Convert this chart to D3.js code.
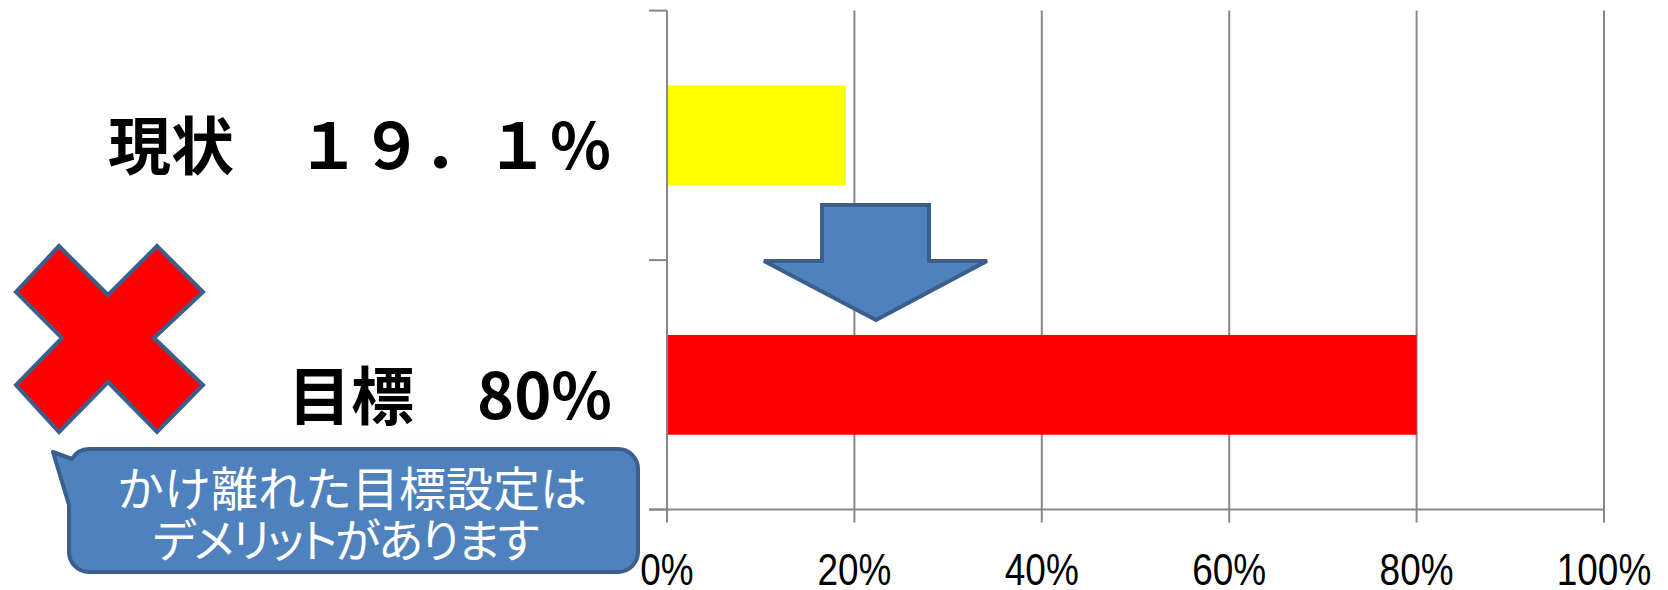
<!DOCTYPE html>
<html>
<head>
<meta charset="utf-8">
<script src="https://cdn.jsdelivr.net/npm/d3@7"></script>
<style>
  html, body { margin: 0; padding: 0; background: #fff; }
  svg { display: block; }
</style>
</head>
<body>
<div id="chart"></div>
<script>
// ---- data ----
const categories = ["現状", "目標"];
const values = [0.191, 0.80];
const valueLabels = ["１９．１％", "80%"];
const barColors = ["#FFFF00", "#FF0000"];
const tickValues = [0, 0.2, 0.4, 0.6, 0.8, 1.0];
const tickLabels = ["0%", "20%", "40%", "60%", "80%", "100%"];
const calloutLines = ["かけ離れた目標設定は", "デメリットがあります"];

// ---- layout ----
const W = 1668, H = 590;
const svg = d3.select("#chart").append("svg").attr("width", W).attr("height", H);

const x = d3.scaleLinear().domain([0, 1]).range([667, 1604]);
const y = d3.scaleBand().domain(categories).range([10.6, 509.6])
  .paddingInner(0.6).paddingOuter(0.3);

const gridColor = "#878787";
const plotTop = 10.6, plotBottom = 509.6;

// gridlines (extend below axis as ticks)
svg.append("g").selectAll("line").data(tickValues).join("line")
  .attr("x1", d => x(d)).attr("x2", d => x(d))
  .attr("y1", plotTop).attr("y2", plotBottom + 13)
  .attr("stroke", gridColor).attr("stroke-width", 2);

// y-axis ticks at band boundaries
const bounds = [plotTop, (plotTop + plotBottom) / 2, plotBottom];
svg.append("g").selectAll("line").data(bounds).join("line")
  .attr("x1", x(0) - 18).attr("x2", x(0))
  .attr("y1", d => d).attr("y2", d => d)
  .attr("stroke", gridColor).attr("stroke-width", 2);

// x-axis line
svg.append("line")
  .attr("x1", x(0) - 18).attr("x2", x(1))
  .attr("y1", plotBottom).attr("y2", plotBottom)
  .attr("stroke", gridColor).attr("stroke-width", 2);

// bars
svg.append("g").selectAll("rect").data(categories).join("rect")
  .attr("x", x(0) + 1)
  .attr("y", d => y(d))
  .attr("width", (d, i) => x(values[i]) - x(0) - 1)
  .attr("height", y.bandwidth())
  .attr("fill", (d, i) => barColors[i]);

// x tick labels (narrow, tall face)
svg.append("g").selectAll("text").data(tickValues).join("text")
  .attr("transform", d => `translate(${x(d)},585) scale(0.84,1)`)
  .attr("text-anchor", "middle")
  .attr("font-family", "'Liberation Sans', Arial, sans-serif")
  .attr("font-size", 44)
  .attr("fill", "#000")
  .text((d, i) => tickLabels[i]);

// category + value labels
const lbl = svg.append("g").selectAll("text").data(categories).join("text")
  .attr("x", 612)
  .attr("y", d => y(d) + y.bandwidth() / 2 + 34)
  .attr("text-anchor", "end")
  .attr("font-family", "'Noto Sans CJK JP', sans-serif")
  .attr("font-size", 63)
  .attr("font-weight", 700)
  .attr("fill", "#000");
lbl.append("tspan").text(d => d + "　");
lbl.append("tspan").text((d, i) => valueLabels[i]);

// ---- decorations ----
const blueFill = "#4F81BD", blueStroke = "#3A5F8D";

// red X
const xShape = [[59,246],[108,295],[157,246],[203,292],[154,338],[203,385],
                [157,432],[108,382],[59,432],[16,385],[62,338],[16,292]];
svg.append("polygon")
  .attr("points", xShape.map(p => p.join(",")).join(" "))
  .attr("fill", "#FF0000").attr("stroke", blueStroke).attr("stroke-width", 4)
  .attr("stroke-linejoin", "miter");

// down arrow
const arrow = [[822,205],[929,205],[929,261],[987,261],[876,320],[764,261],[822,261]];
svg.append("polygon")
  .attr("points", arrow.map(p => p.join(",")).join(" "))
  .attr("fill", blueFill).attr("stroke", blueStroke).attr("stroke-width", 4)
  .attr("stroke-linejoin", "miter");

// callout
svg.append("path")
  .attr("d", "M 89 449 H 618 A 20 20 0 0 1 638 469 V 552 A 20 20 0 0 1 618 572 H 89 A 20 20 0 0 1 69 552 V 505 L 53 452 L 72 459 A 20 20 0 0 1 89 449 Z")
  .attr("fill", blueFill).attr("stroke", blueStroke).attr("stroke-width", 4)
  .attr("stroke-linejoin", "round");

svg.append("g").selectAll("text").data(calloutLines).join("text")
  .attr("x", (d, i) => i === 1 ? 345 : 352)
  .attr("y", (d, i) => 506 + i * 51)
  .attr("text-anchor", "middle")
  .attr("font-family", "'Noto Sans CJK JP', sans-serif")
  .attr("font-size", (d, i) => i === 1 ? 46 : 47)
  .attr("font-weight", 400)
  .attr("letter-spacing", (d, i) => i === 1 ? -2 : 0)
  .attr("fill", "#fff")
  .style("font-feature-settings", (d, i) => i === 1 ? "'palt'" : "normal")
  .text(d => d);
</script>
</body>
</html>
